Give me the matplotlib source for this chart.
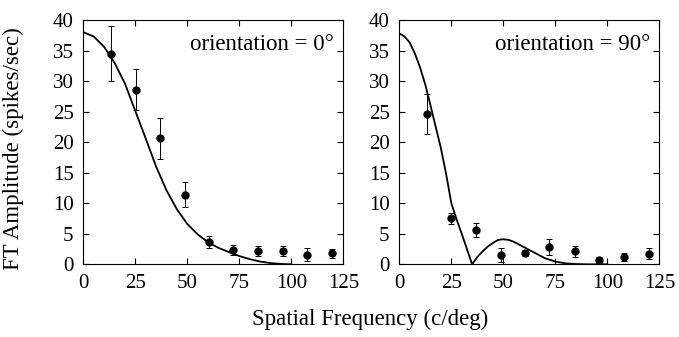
import numpy as np
import matplotlib
matplotlib.use("Agg")
import matplotlib.pyplot as plt

plt.rcParams['font.family'] = ['Liberation Serif', 'DejaVu Serif']
plt.rcParams['font.size'] = 11

# measured responses, 0 deg orientation
sf_0 = [13.3, 25.3, 36.7, 48.7, 60.3, 72.0, 84.1, 95.8, 107.5, 119.7]
amp_0 = [34.5, 28.6, 20.6, 11.4, 3.7, 2.3, 2.2, 2.2, 1.6, 1.8]
err_0 = [4.5, 3.4, 3.3, 2.0, 1.0, 0.8, 0.8, 0.8, 1.1, 0.75]

# measured responses, 90 deg orientation
sf_90 = [13.5, 24.7, 36.9, 48.9, 60.3, 72.1, 84.5, 96.0, 108.0, 119.9]
amp_90 = [24.6, 7.5, 5.6, 1.5, 1.9, 2.9, 2.1, 0.7, 1.2, 1.7]
err_90 = [3.3, 0.9, 1.2, 1.1, 0.5, 1.3, 0.9, 0.5, 0.65, 0.9]

# model prediction curves
model_sf_0 = [0, 5, 10, 15, 20, 25, 30, 35, 40, 45, 50, 55, 60, 65, 70,
              75, 80, 85, 90, 95, 100]
model_0 = [38.0, 37.3, 35.6, 33.0, 29.6, 25.1, 20.6, 16.0, 12.1, 9.0, 6.6,
           4.9, 3.6, 2.7, 2.0, 1.35, 0.85, 0.45, 0.2, 0.06, 0.0]

model_sf_90 = [0, 2.5, 5, 7.5, 10, 12.5, 15, 17.5, 20, 22.5, 25, 27.5, 30,
               32.5, 35, 37.5, 40, 42.5, 45, 47.5, 50, 52.5, 55, 60, 65, 70,
               75, 80, 85, 90, 100]
model_90 = [37.8, 37.3, 36.3, 34.5, 32.2, 29.4, 26.0, 22.5, 19.0, 14.8, 10.0,
            7.4, 5.0, 2.5, 0.0, 1.2, 2.1, 2.9, 3.5, 4.0, 4.1, 4.0, 3.7, 2.8,
            1.9, 1.0, 0.45, 0.15, 0.04, 0.0, 0.0]

fig = plt.figure(figsize=(6.79, 3.37), dpi=100)
ax1 = fig.add_axes([0.1227, 0.2157, 0.3829, 0.725])
ax2 = fig.add_axes([0.5881, 0.2157, 0.3829, 0.725])

panels = [
    (ax1, sf_0, amp_0, err_0, model_sf_0, model_0, 'orientation = 0°'),
    (ax2, sf_90, amp_90, err_90, model_sf_90, model_90, 'orientation = 90°'),
]

for ax, x, y, e, mx, my, label in panels:
    ax.plot(mx, my, color='black', lw=1.3)
    ax.errorbar(x, y, yerr=e, fmt='o', color='black', ms=5,
                elinewidth=0.7, capsize=2, capthick=0.7)
    ax.set_xlim(0, 125)
    ax.set_ylim(0, 40)
    ax.set_xticks([0, 25, 50, 75, 100, 125])
    ax.set_yticks(np.arange(0, 41, 5))
    ax.tick_params(direction='in', length=4, width=0.8, top=True, right=True,
                   labelsize=15, pad=7)
    for s in ax.spines.values():
        s.set_linewidth(0.8)
    ax.text(0.965, 0.9, label, transform=ax.transAxes, ha='right',
            va='center', fontsize=16.5)

fig.text(0.02, 0.56, 'FT Amplitude (spikes/sec)', rotation=90,
         ha='center', va='center', fontsize=16.5)
fig.text(0.545, 0.052, 'Spatial Frequency (c/deg)', ha='center',
         va='center', fontsize=16.5)

plt.savefig('out.png', dpi=100)
